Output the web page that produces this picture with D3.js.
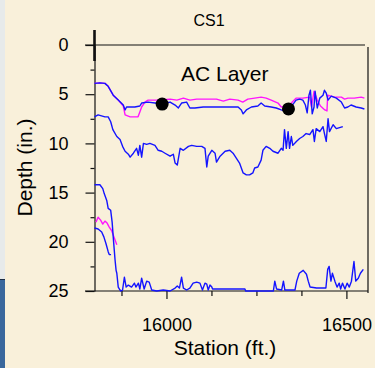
<!DOCTYPE html>
<html>
<head>
<meta charset="utf-8">
<script src="https://cdn.jsdelivr.net/npm/d3@7"></script>
<style>
  html, body { margin: 0; padding: 0; background: #f9f0da; overflow: hidden; }
  svg { display: block; font-family: "Liberation Sans", Arial, sans-serif; }
</style>
</head>
<body>
<script>
// values: [station (ft.), depth (in.)]
const topBlue = [
  [15800,3.9],[15815,3.85],[15829,3.9],[15838,4.2],[15852,5.1],[15866,5.6],[15880,6.1],[15885,6.6],
  [15889,6.3],[15899,6.3],[15912,6.3],[15926,6.2],[15931,5.9],[15949,5.8],[15968,5.9],[15988,6.0],
  [16010,5.8],[16024,6.1],[16033,6.4],[16042,5.9],[16056,5.8],[16065,6.4],[16079,6.4],[16102,6.3],
  [16139,6.3],[16176,6.3],[16199,6.3],[16208,6.6],[16213,7.0],[16222,6.6],[16236,6.3],[16254,6.2],
  [16263,5.9],[16273,6.2],[16291,6.3],[16305,6.4],[16319,6.6],[16328,6.7],[16340,6.5],[16352,6.0],
  [16360,5.6],[16370,5.5],[16379,5.6],[16386,6.1],[16391,6.9],[16396,5.1],[16400,4.6],[16405,7.0],
  [16410,6.3],[16413,4.7],[16419,6.4],[16426,5.4],[16435,5.1],[16439,4.6],[16444,4.9],[16449,5.6],
  [16458,5.2],[16472,5.4],[16486,5.8],[16495,6.4],[16504,6.3],[16513,6.1],[16527,6.3],[16541,6.4],
  [16550,6.5]
];
const topMagenta = [
  [15800,3.9],[15815,3.85],[15829,3.9],[15838,4.2],[15852,5.1],[15866,5.6],[15880,6.2],[15885,7.1],
  [15899,7.3],[15921,7.3],[15926,6.8],[15931,6.3],[15940,5.8],[15949,5.6],[15972,5.6],[16010,5.5],
  [16029,5.6],[16047,5.4],[16065,5.6],[16084,5.5],[16102,5.5],[16139,5.5],[16158,5.7],[16176,5.5],
  [16199,5.6],[16212,5.8],[16226,5.5],[16245,5.4],[16263,5.3],[16277,5.4],[16291,5.6],[16310,5.9],
  [16319,6.3],[16333,6.3],[16347,5.9],[16360,5.4],[16379,5.4],[16398,5.3],[16403,6.3],[16410,4.7],
  [16419,5.6],[16428,6.2],[16440,6.6],[16446,6.7],[16448,5.1],[16467,5.3],[16486,5.3],[16495,5.5],
  [16504,5.4],[16522,5.4],[16541,5.3],[16550,5.4]
];
const midBlue = [
  [15800,7.3],[15810,7.1],[15829,7.3],[15838,7.3],[15845,7.8],[15851,8.6],[15862,9.3],[15871,9.6],
  [15878,10.3],[15885,10.8],[15894,11.1],[15899,11.4],[15908,11.0],[15917,10.5],[15922,11.2],[15926,10.2],
  [15931,11.4],[15936,10.0],[15945,10.1],[15954,10.0],[15968,10.2],[15977,10.7],[15987,10.8],[15996,11.0],
  [16010,11.3],[16019,11.1],[16024,12.0],[16030,12.2],[16038,10.5],[16047,10.7],[16061,10.3],[16070,10.2],
  [16084,10.3],[16098,10.3],[16107,10.5],[16112,12.4],[16116,11.3],[16126,10.7],[16135,11.0],[16139,11.9],
  [16149,11.3],[16163,10.8],[16176,10.7],[16185,11.0],[16194,11.5],[16203,12.0],[16213,13.0],[16222,13.2],
  [16231,13.2],[16240,13.0],[16245,12.5],[16254,12.4],[16263,11.7],[16268,10.7],[16277,10.3],[16287,10.5],
  [16296,10.8],[16310,11.0],[16319,10.5],[16324,10.7],[16328,8.6],[16333,10.5],[16338,8.8],[16342,10.5],
  [16347,9.3],[16351,10.2],[16361,9.8],[16370,9.5],[16379,9.3],[16388,9.0],[16398,9.1],[16407,8.6],
  [16411,9.8],[16416,8.5],[16426,8.8],[16435,8.3],[16439,9.0],[16444,9.8],[16449,7.5],[16453,8.8],
  [16463,8.1],[16472,8.5],[16481,8.4],[16490,8.3]
];
const bottomBlue = [
  [15800,14.2],[15815,14.2],[15823,14.6],[15827,15.1],[15834,15.8],[15838,16.6],[15845,16.8],[15849,18.0],
  [15852,19.5],[15857,21.8],[15860,22.9],[15862,23.2],[15866,24.6],[15871,24.9],[15873,25],[15878,24.9],
  [15883,23.6],[15888,24.6],[15894,24.4],[15903,24.6],[15911,24.2],[15915,24.6],[15922,24.2],[15926,24.8],
  [15931,23.7],[15938,24.8],[15945,24.0],[15952,24.1],[15959,24.9],[15973,25],[15991,24.9],[16010,25],
  [16024,24.7],[16030,24.5],[16036,24.7],[16042,23.6],[16047,24.7],[16056,24.9],[16065,24.7],[16074,24.2],
  [16084,24.1],[16093,24.2],[16100,24.9],[16107,24.2],[16112,24.3],[16116,24.9],[16121,24.4],[16126,24.6],
  [16128,24.8],[16218,24.8],[16220,25],[16297,25],[16301,24.0],[16306,24.8],[16320,24.9],[16325,24.0],
  [16329,24.9],[16357,24.9],[16362,24.0],[16369,23.2],[16380,22.9],[16389,23.3],[16394,24.0],[16399,24.6],
  [16417,24.7],[16443,24.7],[16448,22.8],[16452,22.5],[16457,24.0],[16461,23.2],[16468,24.0],[16474,24.6],
  [16480,24.2],[16484,24.8],[16489,24.2],[16496,24.8],[16502,24.2],[16508,24.6],[16514,24.0],[16521,22.0],
  [16526,24.0],[16533,23.7],[16539,23.2],[16547,22.8]
];
const lowerBlue = [
  [15800,18.6],[15810,18.7],[15820,19.0],[15826,19.5],[15832,20.2],[15838,21.0],[15841,21.3],[15846,21.3]
];
const lowerMagenta = [
  [15804,18.0],[15810,17.5],[15817,17.8],[15823,18.2],[15829,17.9],[15835,18.1],[15841,18.5],[15848,18.9],
  [15854,19.5],[15862,20.3]
];
const cores = [[15988,6.0],[16339,6.5]];

const yTicks = [0, 5, 10, 15, 20, 25];
const yMinorTicks = [2.5, 7.5, 12.5, 17.5, 22.5];
const xTicks = [16000, 16500];
const xMinorTicks = [15875, 16125, 16250, 16375];

const width = 375, height = 368;
const plot = { left: 94.5, right: 368, top: 45, bottom: 291 };

const svg = d3.select('body').append('svg')
              .attr('width', width)
              .attr('height', height);

// slide background bits on the left edge
svg.append('rect').attr('x', 0).attr('y', 0).attr('width', width).attr('height', height).attr('fill', '#f9f0da');
svg.append('rect').attr('x', 0).attr('y', 0).attr('width', 5).attr('height', height).attr('fill', '#e7eaea');
svg.append('rect').attr('x', 0).attr('y', 279).attr('width', 5).attr('height', height - 279).attr('fill', '#3a679c');
svg.append('line').attr('x1', 0).attr('x2', 5).attr('y1', 279.5).attr('y2', 279.5).attr('stroke', '#1c2d44');

const x = d3.scaleLinear().domain([15800, 16560]).range([plot.left, plot.right]);
const y = d3.scaleLinear().domain([0, 25]).range([plot.top, plot.bottom]);

// frame
svg.append('line').attr('x1', 85).attr('x2', 365).attr('y1', plot.top).attr('y2', plot.top)
   .attr('stroke', '#111').attr('stroke-width', 1.2);
svg.append('line').attr('x1', plot.right).attr('x2', plot.right).attr('y1', 47).attr('y2', 293)
   .attr('stroke', '#111').attr('stroke-width', 1.2);
svg.append('line').attr('x1', plot.left).attr('x2', plot.left).attr('y1', 30).attr('y2', 61)
   .attr('stroke', '#111').attr('stroke-width', 2.6);

// axes
const yAxis = d3.axisLeft(y).tickValues(yTicks).tickSize(9).tickSizeOuter(0).tickFormat(d3.format('d'));
const gy = svg.append('g').attr('transform', `translate(${plot.left},0)`).call(yAxis);
gy.selectAll('text').attr('x', -26).style('font-size', '18px').style('font-family', '"Liberation Sans", Arial, sans-serif').attr('fill', '#000');
gy.selectAll('line, path').attr('stroke', '#111').attr('stroke-width', 1.2);
svg.append('g').attr('transform', `translate(${plot.left},0)`)
   .call(d3.axisLeft(y).tickValues(yMinorTicks).tickSize(4).tickSizeOuter(0).tickFormat(''))
   .call(g => g.select('.domain').remove())
   .selectAll('line').attr('stroke', '#111').attr('stroke-width', 1.2);

const xAxis = d3.axisBottom(x).tickValues(xTicks).tickSize(8).tickSizeOuter(0).tickFormat(d3.format('d'));
const gx = svg.append('g').attr('transform', `translate(0,${plot.bottom})`).call(xAxis);
gx.select('.domain').attr('d', `M85,0H${plot.right}`);
gx.selectAll('text').attr('y', 27).attr('dy', '0.71em').style('font-size', '18px').style('font-family', '"Liberation Sans", Arial, sans-serif').attr('fill', '#000');
gx.selectAll('line, path').attr('stroke', '#111').attr('stroke-width', 1.2);
svg.append('g').attr('transform', `translate(0,${plot.bottom})`)
   .call(d3.axisBottom(x).tickValues(xMinorTicks).tickSize(5).tickFormat(''))
   .call(g => g.select('.domain').remove())
   .selectAll('line').attr('stroke', '#111').attr('stroke-width', 1.2);

// lines
const line = d3.line().x(d => x(d[0])).y(d => y(d[1]));
const series = [
  { data: topMagenta, color: '#ff14ff' },
  { data: lowerMagenta, color: '#ff14ff' },
  { data: topBlue, color: '#1414ff' },
  { data: midBlue, color: '#1414ff' },
  { data: bottomBlue, color: '#1414ff' },
  { data: lowerBlue, color: '#1414ff' }
];
svg.append('g').selectAll('path')
   .data(series)
   .enter()
   .append('path')
   .attr('d', d => line(d.data))
   .attr('fill', 'none')
   .attr('stroke', d => d.color)
   .attr('stroke-width', 1.4)
   .attr('stroke-linejoin', 'round');

svg.append('g').selectAll('circle')
   .data(cores)
   .enter()
   .append('circle')
   .attr('cx', d => x(d[0]))
   .attr('cy', d => y(d[1]))
   .attr('r', 6.5)
   .attr('fill', '#000');

// text
svg.append('text').attr('x', 209).attr('y', 26).attr('text-anchor', 'middle')
   .style('font-size', '16px').text('CS1');
svg.append('text').attr('x', 181).attr('y', 81)
   .style('font-size', '21px').text('AC Layer');
svg.append('text').attr('x', 225).attr('y', 355).attr('text-anchor', 'middle')
   .style('font-size', '21px').text('Station (ft.)');
svg.append('text').attr('transform', 'translate(32,167.5) rotate(-90)').attr('text-anchor', 'middle')
   .style('font-size', '21px').text('Depth (in.)');
</script>
</body>
</html>
